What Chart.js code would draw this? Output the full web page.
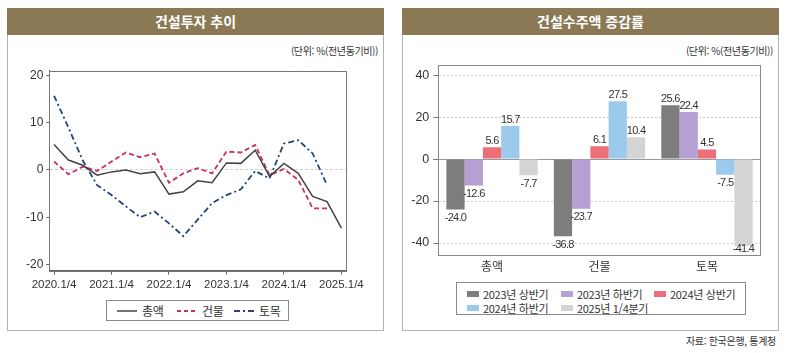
<!DOCTYPE html>
<html lang="ko">
<head>
<meta charset="utf-8">
<script src="https://cdn.jsdelivr.net/npm/chart.js@4.4.1/dist/chart.umd.min.js"></script>
<style>
  body { margin: 0; width: 789px; height: 353px; background: #fff; position: relative; overflow: hidden;
         font-family: "Noto Sans CJK KR", sans-serif; color: #333; }
  .panel { position: absolute; top: 8px; width: 377px; height: 323px; border: 1px solid #b3b3b3; box-sizing: border-box; }
  .head { position: absolute; left: -1px; right: -1px; top: -1px; height: 27px; background: #8b7955; color: #fff;
          font-weight: bold; font-size: 14px; text-align: center; line-height: 27px; }
  .unit { position: absolute; top: 34px; right: 5px; font-size: 10px; letter-spacing: -0.4px; color: #333; }
  canvas { position: absolute; }
  .legend { position: absolute; border: 1px solid #888; background: #fff; box-sizing: border-box; font-size: 11px; color: #333; }
  .item { position: absolute; display: flex; align-items: center; white-space: nowrap; letter-spacing: -0.3px; }
  .sw { display: inline-block; width: 12px; height: 6px; margin-right: 4px; }
  .src { position: absolute; right: 13px; top: 333px; font-size: 10px; letter-spacing: -0.3px; color: #333; }
</style>
</head>
<body>
<div class="panel" style="left:7px"><div class="head">건설투자 추이</div><div class="unit">(단위: %(전년동기비))</div></div>
<div class="panel" style="left:402px"><div class="head">건설수주액 증감률</div><div class="unit">(단위: %(전년동기비))</div></div>

<canvas id="lineChart" width="370" height="230" style="left:8px; top:60px; width:370px; height:230px"></canvas>
<canvas id="barChart" width="374" height="220" style="left:402px; top:60px; width:374px; height:220px"></canvas>

<div class="legend" style="left:106px; top:300px; width:183px; height:21px; font-size:12px">
  <div class="item" style="left:10px; top:1px">
    <svg width="20" height="16"><line x1="0" y1="8" x2="20" y2="8" stroke="#444" stroke-width="1.5"/></svg>
    <span style="margin-left:5px">총액</span></div>
  <div class="item" style="left:70px; top:1px">
    <svg width="20" height="16"><line x1="0" y1="8" x2="20" y2="8" stroke="#c8325a" stroke-width="1.8" stroke-dasharray="4,3"/></svg>
    <span style="margin-left:5px">건물</span></div>
  <div class="item" style="left:127px; top:1px">
    <svg width="21" height="16"><line x1="0" y1="8" x2="21" y2="8" stroke="#23447a" stroke-width="1.8" stroke-dasharray="6,3,2,3"/></svg>
    <span style="margin-left:4px">토목</span></div>
</div>

<div class="legend" id="barLegend" style="left:456px; top:282px; width:290px; height:33px"></div>

<div class="src">자료: 한국은행, 통계청</div>

<script>
// 건설투자 추이 (분기, 전년동기비 %)
const quarterLabels = [
  "2020.1/4", "2020.2/4", "2020.3/4", "2020.4/4",
  "2021.1/4", "2021.2/4", "2021.3/4", "2021.4/4",
  "2022.1/4", "2022.2/4", "2022.3/4", "2022.4/4",
  "2023.1/4", "2023.2/4", "2023.3/4", "2023.4/4",
  "2024.1/4", "2024.2/4", "2024.3/4", "2024.4/4",
  "2025.1/4",
];
const yearTicks = [0, 4, 8, 12, 16, 20];
const lineTicksY = [-20, -10, 0, 10, 20];

const totalInv = [5.4, 2.1, 1.0, -1.1, -0.4, 0.0, -0.8, -0.4, -5.1, -4.6, -2.3, -2.7, 1.5, 1.4, 4.2, -1.4, 1.4, -0.7, -5.6, -6.7, -12.3];
const buildingInv = [1.8, -0.9, 0.7, -0.2, 1.8, 3.7, 2.7, 3.5, -2.7, -0.7, 0.4, -0.7, 3.9, 3.7, 5.3, -1.1, 0.2, -2.1, -8.1, -8.1, null];
const civilInv = [15.7, 9.0, 2.0, -3.2, -5.3, -7.7, -10.0, -8.8, -11.3, -14.0, -10.5, -7.0, -5.3, -4.1, -0.2, -1.8, 5.6, 6.3, 3.5, -3.2, null];

// 건설수주액 증감률
const orderCats = ["총액", "건물", "토목"];
const periodNames = ["2023년 상반기", "2023년 하반기", "2024년 상반기", "2024년 하반기", "2025년 1/4분기"];
const h1_2023 = [-24.0, -36.8, 25.6];
const h2_2023 = [-12.6, -23.7, 22.4];
const h1_2024 = [5.6, 6.1, 4.5];
const h2_2024 = [15.7, 27.5, -7.5];
const q1_2025 = [-7.7, 10.4, -41.4];
const barTicksY = [-40, -20, 0, 20, 40];

const barColors = ["#7d7d7d", "#b59fd3", "#ec6f79", "#9ccaec", "#d4d4d4"];

const numFamily = "'Liberation Sans', Arial, sans-serif";
const korFont = { family: "'Noto Sans CJK KR', sans-serif", size: 12 };

const toPoints = (arr) => arr.map((v, i) => ({ x: i, y: v }));

// fixed axis sizes, no extra label padding from chart.js
const fixSize = (w, h) => (s) => {
  if (w != null) s.width = w;
  if (h != null) s.height = h;
  s.paddingTop = 0; s.paddingBottom = 0; s.paddingLeft = 0; s.paddingRight = 0;
};

// frame around plot area
const boxPlugin = {
  id: "box",
  afterDraw(chart, args, opts) {
    const { ctx, chartArea: a } = chart;
    ctx.save();
    ctx.strokeStyle = opts.color || "#777";
    ctx.lineWidth = 1;
    ctx.strokeRect(Math.round(a.left) + 0.5, Math.round(a.top) + 0.5,
      Math.round(a.right - a.left), Math.round(a.bottom - a.top));
    ctx.restore();
  },
};

new Chart(document.getElementById("lineChart"), {
  type: "line",
  data: {
    datasets: [
      { label: "총액", data: toPoints(totalInv), borderColor: "#444", borderWidth: 1.5 },
      { label: "건물", data: toPoints(buildingInv), borderColor: "#c8325a", borderWidth: 1.8, borderDash: [5, 3] },
      { label: "토목", data: toPoints(civilInv), borderColor: "#23447a", borderWidth: 1.8, borderDash: [6, 3, 2, 3] },
    ],
  },
  options: {
    responsive: false,
    animation: false,
    elements: { point: { radius: 0 }, line: { tension: 0 } },
    layout: { padding: { top: 10.7, right: 31.3, left: 0, bottom: 0 } },
    plugins: { legend: { display: false }, tooltip: { enabled: false }, box: { color: "#777" } },
    scales: {
      x: {
        type: "linear",
        min: -0.33,
        max: 20.37,
        afterBuildTicks: (axis) => { axis.ticks = yearTicks.map((v) => ({ value: v })); },
        afterFit: fixSize(null, 19.3),
        grid: { drawOnChartArea: false, tickColor: "#666", tickLength: 4 },
        border: { color: "#666" },
        ticks: { callback: (v) => quarterLabels[v], font: { family: numFamily, size: 11.5 }, color: "#333", maxRotation: 0, padding: 3 },
      },
      y: {
        min: -21.3,
        max: 21.0,
        afterBuildTicks: (axis) => { axis.ticks = lineTicksY.map((v) => ({ value: v })); },
        afterFit: fixSize(41.3, null),
        grid: {
          color: (c) => (c.tick && c.tick.value === 0 ? "#cfcfcf" : "transparent"),
          tickColor: "#666",
          tickLength: 3,
          tickBorderDash: [],
        },
        border: { color: "#666", dash: [3, 2] },
        ticks: { font: { family: numFamily, size: 12 }, color: "#333", padding: 3 },
      },
    },
  },
  plugins: [boxPlugin],
});

const zeroLinePlugin = {
  id: "zeroLine",
  beforeDatasetsDraw(chart) {
    const { ctx, chartArea: a, scales } = chart;
    const y = Math.round(scales.y.getPixelForValue(0)) + 0.5;
    ctx.save();
    ctx.strokeStyle = "#999";
    ctx.lineWidth = 1;
    ctx.beginPath();
    ctx.moveTo(a.left, y);
    ctx.lineTo(a.right, y);
    ctx.stroke();
    ctx.restore();
  },
};

const barLabelPlugin = {
  id: "barLabels",
  afterDatasetsDraw(chart) {
    const { ctx, chartArea: a } = chart;
    ctx.save();
    ctx.font = "11px " + numFamily;
    ctx.letterSpacing = "-0.7px";
    ctx.fillStyle = "#333";
    ctx.textAlign = "center";
    chart.data.datasets.forEach((ds, di) => {
      chart.getDatasetMeta(di).data.forEach((bar, i) => {
        const v = ds.data[i];
        const txt = v.toFixed(1);
        if (v >= 0) {
          ctx.textBaseline = "bottom";
          ctx.fillText(txt, bar.x, bar.y - 1);
        } else {
          ctx.textBaseline = "top";
          ctx.fillText(txt, bar.x, Math.min(bar.y + 3, a.bottom - 12));
        }
      });
    });
    ctx.restore();
  },
};

const barSeries = [h1_2023, h2_2023, h1_2024, h2_2024, q1_2025];

new Chart(document.getElementById("barChart"), {
  type: "bar",
  data: {
    labels: orderCats,
    datasets: barSeries.map((d, i) => ({
      label: periodNames[i],
      data: d,
      backgroundColor: barColors[i],
      borderWidth: 0,
      barPercentage: 1,
      categoryPercentage: 0.85,
    })),
  },
  options: {
    responsive: false,
    animation: false,
    layout: { padding: { top: 5, right: 15.3, left: 0, bottom: 0 } },
    plugins: { legend: { display: false }, tooltip: { enabled: false }, box: { color: "#888" } },
    scales: {
      x: {
        afterFit: fixSize(null, 25),
        grid: { display: false, drawTicks: false },
        border: { color: "#888" },
        ticks: { font: korFont, color: "#333", padding: 4 },
      },
      y: {
        min: -45.7,
        max: 44.8,
        afterBuildTicks: (axis) => { axis.ticks = barTicksY.map((v) => ({ value: v })); },
        afterFit: fixSize(36.3, null),
        grid: {
          color: (c) => (c.tick && c.tick.value !== 0 ? "#c8c8c8" : "transparent"),
          tickColor: "#777",
          tickLength: 5,
          tickBorderDash: [],
        },
        border: { color: "#888", dash: [2, 2] },
        ticks: { font: { family: numFamily, size: 12.5 }, color: "#333", padding: 4 },
      },
    },
  },
  plugins: [zeroLinePlugin, barLabelPlugin, boxPlugin],
});

// legend for bar chart, laid out in the reference's grid
const legendPos = [[10, 3], [104, 3], [197, 3], [10, 17], [104, 17]];
const barLegend = document.getElementById("barLegend");
periodNames.forEach((name, i) => {
  const it = document.createElement("div");
  it.className = "item";
  it.style.left = legendPos[i][0] + "px";
  it.style.top = legendPos[i][1] + "px";
  it.innerHTML = `<span class="sw" style="background:${barColors[i]}"></span>${name}`;
  barLegend.appendChild(it);
});
</script>
</body>
</html>
